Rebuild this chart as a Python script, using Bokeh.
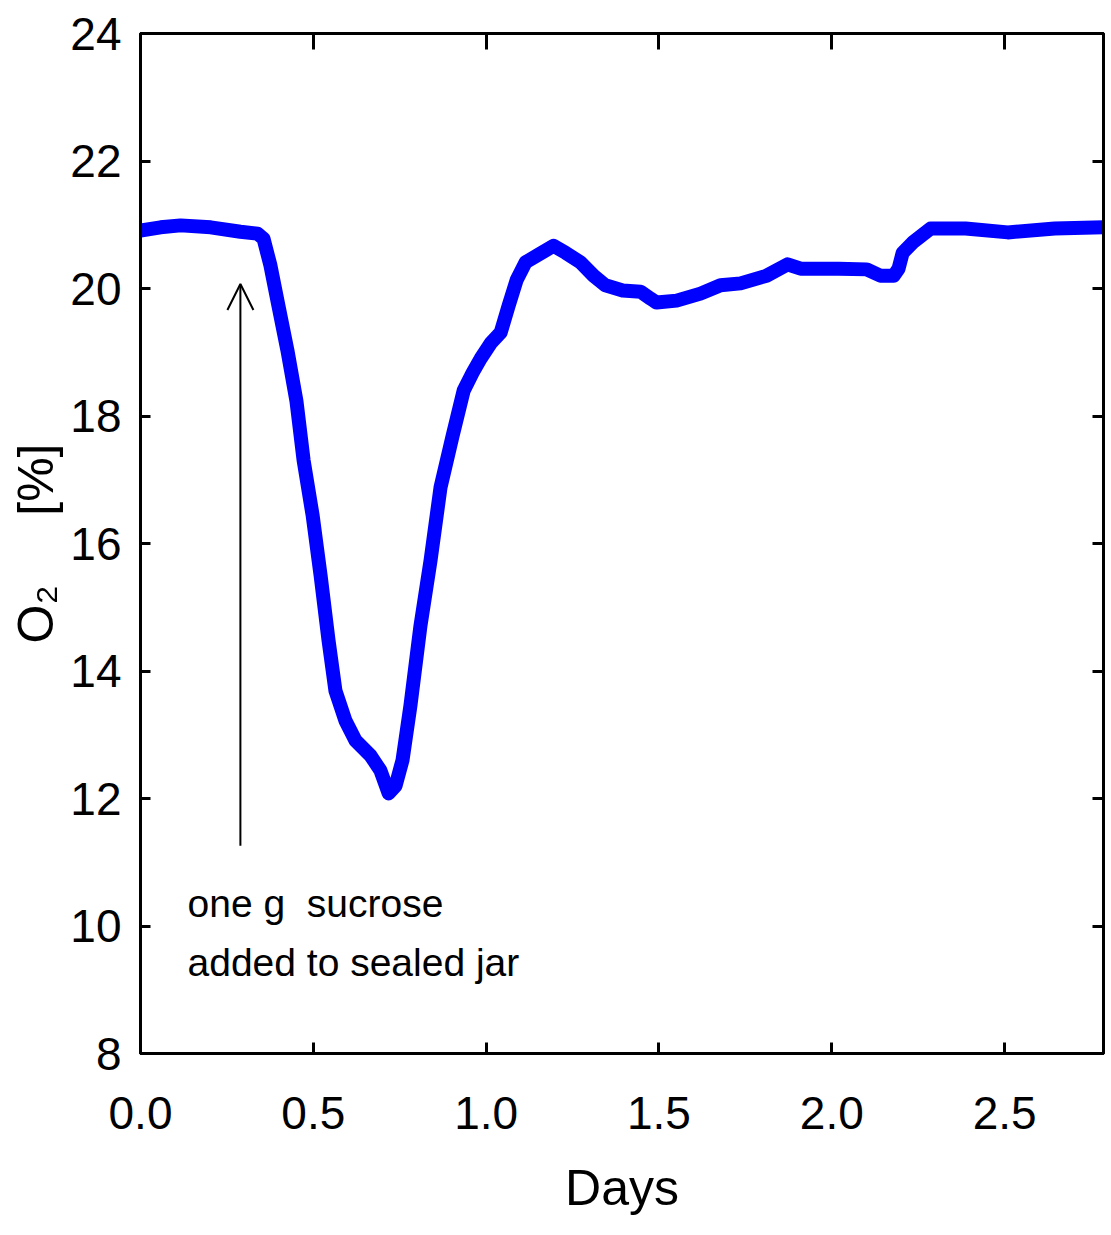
from bokeh.plotting import figure
from bokeh.models import (Range1d, LinearAxis, FixedTicker, Arrow, OpenHead,
                          ColumnDataSource)
from bokeh.core.properties import value
from bokeh.embed import file_html
from bokeh.resources import INLINE

# O2 concentration in the sealed jar over time
days = [0.000, 0.058, 0.116, 0.203, 0.289, 0.339, 0.356, 0.376, 0.399, 0.425,
        0.451, 0.472, 0.498, 0.521, 0.544, 0.564, 0.593, 0.622, 0.666, 0.694,
        0.718, 0.738, 0.758, 0.781, 0.810, 0.839, 0.868, 0.903, 0.935, 0.961,
        0.984, 1.013, 1.042, 1.065, 1.088, 1.114, 1.157, 1.195, 1.230, 1.273,
        1.311, 1.345, 1.395, 1.447, 1.476, 1.493, 1.551, 1.620, 1.678, 1.736,
        1.811, 1.872, 1.910, 2.020, 2.101, 2.141, 2.179, 2.193, 2.205, 2.234,
        2.286, 2.387, 2.509, 2.645, 2.786]
o2 = [20.91, 20.96, 20.99, 20.96, 20.89, 20.86, 20.78, 20.36, 19.73, 19.03,
      18.24, 17.30, 16.44, 15.50, 14.48, 13.69, 13.22, 12.91, 12.67, 12.44,
      12.08, 12.20, 12.60, 13.46, 14.71, 15.73, 16.88, 17.69, 18.40, 18.68,
      18.90, 19.14, 19.31, 19.73, 20.13, 20.41, 20.55, 20.67, 20.56, 20.41,
      20.20, 20.05, 19.97, 19.95, 19.84, 19.78, 19.81, 19.92, 20.05, 20.08,
      20.20, 20.38, 20.31, 20.31, 20.30, 20.20, 20.20, 20.31, 20.56, 20.72,
      20.94, 20.94, 20.88, 20.94, 20.96]

x_ticks = [0.0, 0.5, 1.0, 1.5, 2.0, 2.5]
y_ticks = [8, 10, 12, 14, 16, 18, 20, 22, 24]

# sucrose addition marker
event_day = 0.289
arrow_from = 11.26
arrow_to = 20.07
note_x = [0.136, 0.136]
note_y = [10.35, 9.43]
note_text = ["one g\u00a0\u00a0sucrose", "added to sealed jar"]

SANS = "Liberation Sans"
NBSP = "\u00a0"

p = figure(width=1111, height=1235, output_backend="svg", toolbar_location=None,
           x_range=Range1d(0, 2.786), y_range=Range1d(8, 24),
           min_border_left=140, min_border_right=8,
           min_border_top=33, min_border_bottom=182,
           x_axis_label="Days",
           y_axis_label="O\u2082" + NBSP * 5 + "[%]")
p.grid.visible = False
p.outline_line_color = "black"
p.outline_line_width = 3
p.background_fill_color = "white"
p.border_fill_color = "white"

def style_axis(ax, tick_in, ticks, show_labels):
    ax.ticker = FixedTicker(ticks=ticks)
    ax.axis_line_color = "black"
    ax.axis_line_width = 3
    ax.major_tick_line_color = "black"
    ax.major_tick_line_width = 3
    ax.major_tick_in = tick_in
    ax.major_tick_out = 0
    ax.minor_tick_line_color = None
    if show_labels:
        ax.major_label_text_font = SANS
        ax.major_label_text_font_size = "46px"
        ax.major_label_text_color = "black"
    else:
        ax.major_label_overrides = {t: "" for t in ticks}
        ax.major_label_standoff = 0

xa = p.xaxis[0]
ya = p.yaxis[0]
style_axis(xa, 11, x_ticks, True)
style_axis(ya, 10, y_ticks, True)
xa.major_label_overrides = {t: f"{t:.1f}" for t in x_ticks}
xa.major_label_standoff = 43
ya.major_label_standoff = 19

xa.axis_label_text_font = SANS
xa.axis_label_text_font_size = "50px"
xa.axis_label_text_font_style = "normal"
xa.axis_label_text_color = "black"
xa.axis_label_standoff = 28
ya.axis_label_text_font = SANS
ya.axis_label_text_font_size = "50px"
ya.axis_label_text_font_style = "normal"
ya.axis_label_text_color = "black"
ya.axis_label_standoff = 3

top = LinearAxis()
style_axis(top, 16, x_ticks[1:], False)
p.add_layout(top, "above")
right = LinearAxis()
style_axis(right, 11, y_ticks, False)
p.add_layout(right, "right")

src = ColumnDataSource(data=dict(days=days, o2=o2))
p.line("days", "o2", source=src, line_color="#0000ff", line_width=14,
       line_join="round", line_cap="round")

p.add_layout(Arrow(end=OpenHead(size=26, line_width=2, line_color="black"),
                   x_start=event_day, y_start=arrow_from,
                   x_end=event_day, y_end=arrow_to,
                   line_width=2, line_color="black"))

p.text(x=note_x, y=note_y, text=note_text, text_font=value(SANS),
       text_font_size="39px", text_color="black",
       text_align="left", text_baseline="alphabetic")

open("out.html", "w").write(file_html(p, INLINE))
